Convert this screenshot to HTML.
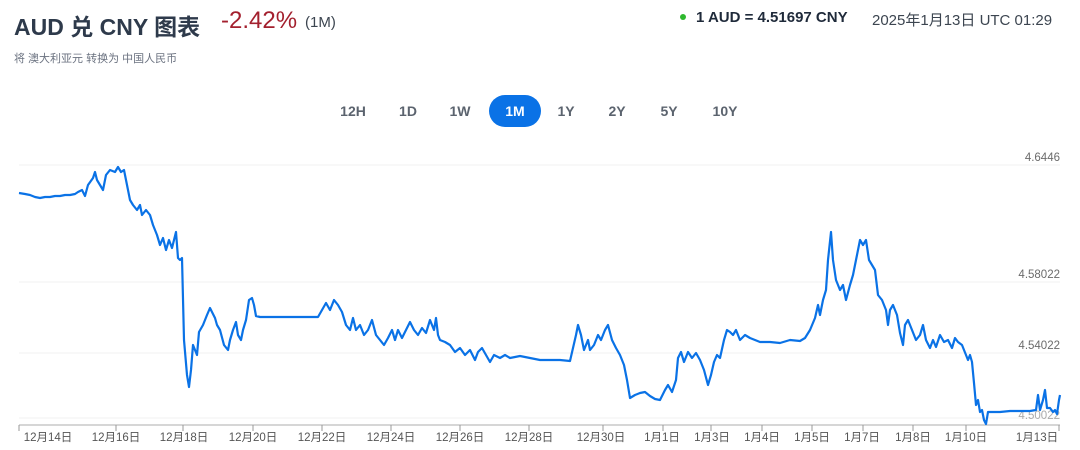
<!DOCTYPE html>
<html><head><meta charset="utf-8"><style>
body{margin:0;width:1080px;height:450px;background:#fff;font-family:"Liberation Sans","Noto Sans CJK SC",sans-serif;position:relative;overflow:hidden}
.t{position:absolute;white-space:nowrap}
.btn{position:absolute;top:95px;height:32px;line-height:32px;font-size:14px;font-weight:bold;color:#5b636e;text-align:center;width:50px}
</style></head><body>
<div class="t" style="left:14px;top:8px;font-size:23px;font-weight:bold;color:#2e3a4b">AUD 兑 CNY 图表</div>
<div class="t" style="left:221px;top:7px;font-size:24px;color:#a3202e">-2.42%</div>
<div class="t" style="left:305px;top:14px;font-size:15px;color:#3c4550">(1M)</div>
<div class="t" style="left:14px;top:50px;font-size:11px;color:#6b7280">将 澳大利亚元 转换为 中国人民币</div>
<div class="t" style="left:680px;top:14px;width:6px;height:6px;border-radius:50%;background:#2eb82e"></div>
<div class="t" style="left:696px;top:9px;font-size:15px;font-weight:bold;color:#1f2a3a">1 AUD = 4.51697 CNY</div>
<div class="t" style="left:872px;top:9px;font-size:15px;color:#3c4550">2025年1月13日 UTC 01:29</div>
<div class="btn" style="left:328px">12H</div>
<div class="btn" style="left:383px">1D</div>
<div class="btn" style="left:435px">1W</div>
<div class="btn" style="left:489px;width:52px;background:#0a72e6;color:#fff;border-radius:16px">1M</div>
<div class="btn" style="left:541px">1Y</div>
<div class="btn" style="left:592px">2Y</div>
<div class="btn" style="left:644px">5Y</div>
<div class="btn" style="left:700px">10Y</div>
<svg width="1080" height="450" style="position:absolute;left:0;top:0" font-family="Liberation Sans, Noto Sans CJK SC, sans-serif">
<g stroke="#f0f0f0" stroke-width="1">
<line x1="19" y1="165" x2="1060" y2="165"/><line x1="19" y1="282" x2="1060" y2="282"/><line x1="19" y1="353" x2="1060" y2="353"/><line x1="19" y1="418" x2="1060" y2="418"/>
</g>
<g font-size="11.5" fill="#6b6b6b" text-anchor="end">
<text x="1060" y="161">4.6446</text><text x="1060" y="278">4.58022</text><text x="1060" y="349">4.54022</text><text x="1060" y="419" fill="#aaa">4.50022</text>
</g>
<line x1="19" y1="425" x2="1060" y2="425" stroke="#c8c8c8" stroke-width="1.5"/>
<g stroke="#999" stroke-width="1">
<line x1="19" y1="425" x2="19" y2="431"/><line x1="116" y1="425" x2="116" y2="431"/><line x1="183" y1="425" x2="183" y2="431"/><line x1="253" y1="425" x2="253" y2="431"/><line x1="322" y1="425" x2="322" y2="431"/><line x1="391" y1="425" x2="391" y2="431"/><line x1="460" y1="425" x2="460" y2="431"/><line x1="529" y1="425" x2="529" y2="431"/><line x1="603" y1="425" x2="603" y2="431"/><line x1="663" y1="425" x2="663" y2="431"/><line x1="711" y1="425" x2="711" y2="431"/><line x1="762" y1="425" x2="762" y2="431"/><line x1="812" y1="425" x2="812" y2="431"/><line x1="863" y1="425" x2="863" y2="431"/><line x1="913" y1="425" x2="913" y2="431"/><line x1="966" y1="425" x2="966" y2="431"/><line x1="1059" y1="425" x2="1059" y2="431"/>
</g>
<g font-size="11.5" fill="#555" text-anchor="middle">
<text x="48" y="441">12月14日</text><text x="116" y="441">12月16日</text><text x="184" y="441">12月18日</text><text x="253" y="441">12月20日</text><text x="322" y="441">12月22日</text><text x="391" y="441">12月24日</text><text x="460" y="441">12月26日</text><text x="529" y="441">12月28日</text><text x="601" y="441">12月30日</text><text x="662" y="441">1月1日</text><text x="712" y="441">1月3日</text><text x="762" y="441">1月4日</text><text x="812" y="441">1月5日</text><text x="862" y="441">1月7日</text><text x="913" y="441">1月8日</text><text x="966" y="441">1月10日</text><text x="1037" y="441">1月13日</text>
</g>
<polyline fill="none" stroke="#0a72e6" stroke-width="2.2" stroke-linejoin="round" points="19,193 25,194 30,195 35,197 40,198 45,197 50,197 55,196 60,196 65,195 70,195 75,194 78,192 82,190 85,196 88,185 93,178 95,172 97,180 100,185 103,190 106,175 110,170 115,172 118,167 121,172 124,170 127,185 130,200 133,205 137,210 140,205 142,215 146,210 150,215 153,225 157,235 160,245 163,238 166,250 169,240 172,248 176,232 178,258 180,260 182,258 184,340 187,375 189,387 191,370 193,345 195,350 197,355 199,332 203,325 207,315 210,308 212,312 215,318 217,325 220,330 224,345 228,350 230,340 233,330 236,322 238,335 241,340 243,330 246,320 249,300 252,298 254,305 256,316 260,317 280,317 300,317 318,317 322,310 326,303 330,310 334,300 338,305 342,312 346,325 350,330 353,318 356,330 360,325 364,335 368,330 372,320 376,335 380,340 384,345 388,338 392,330 395,340 398,330 402,338 406,330 410,322 414,330 418,335 422,328 426,333 430,320 434,330 436,318 438,335 440,340 445,342 450,345 455,352 460,348 465,355 470,350 475,360 478,352 482,348 486,355 490,362 494,355 500,358 505,355 510,358 520,356 530,358 540,360 560,360 570,361 573,348 576,335 578,325 581,335 584,350 588,340 590,350 594,345 598,335 601,340 605,330 608,325 612,340 616,348 620,355 624,365 627,380 630,398 635,395 640,393 645,392 650,396 655,399 660,400 665,390 668,385 672,392 676,380 678,358 681,352 684,362 688,352 692,358 696,353 700,360 704,370 708,385 711,375 714,362 717,355 720,358 724,340 727,330 730,332 733,335 736,330 740,340 745,335 750,338 760,342 770,342 780,343 790,340 800,341 805,338 810,330 815,318 818,305 820,315 823,300 826,290 828,260 831,232 833,260 836,280 840,290 843,285 846,300 850,285 853,275 856,260 860,240 863,245 866,240 869,260 872,265 875,270 878,295 882,300 886,310 888,325 890,310 893,305 897,315 900,333 903,345 905,325 908,320 912,330 916,340 920,335 923,325 926,340 930,348 933,340 936,347 940,335 944,342 948,340 952,348 955,338 958,342 962,345 966,355 968,360 970,355 972,362 974,383 976,405 978,400 980,412 982,410 984,420 986,424 988,412 992,412 1000,412 1010,411 1020,411 1030,411 1036,410 1038,395 1040,410 1043,400 1045,390 1047,408 1050,408 1053,412 1055,410 1057,414 1059,400 1060,395"/>
</svg>
</body></html>
